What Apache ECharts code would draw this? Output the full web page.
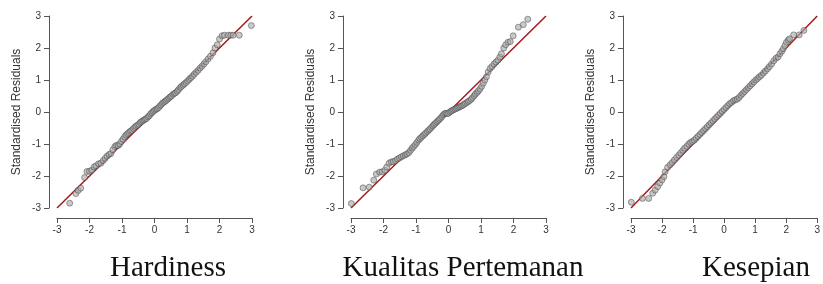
<!DOCTYPE html>
<html>
<head>
<meta charset="utf-8">
<script src="https://cdn.jsdelivr.net/npm/echarts@6/dist/echarts.min.js"></script>
<style>
  html, body { margin: 0; padding: 0; background: #fff; }
  #MyChart { width: 823px; height: 284px; }
</style>
</head>
<body>
<div id="MyChart"></div>
<script>
// Q-Q plots: theoretical quantiles (x) vs standardised residuals (y)
const panelTitles = ['Hardiness', 'Kualitas Pertemanan', 'Kesepian']
const tickValues = [-3, -2, -1, 0, 1, 2, 3]
const refLine = [[-3, -3], [3, 3]]

const hardX = [-2.61,-2.42,-2.35,-2.27,-2.15,-2.08,-2.0,-1.93,-1.86,-1.8,-1.72,-1.65,-1.58,-1.52,-1.46,-1.4,-1.34,-1.28,-1.22,-1.17,-1.12,-1.07,-1.02,-0.97,-0.92,-0.88,-0.83,-0.79,-0.74,-0.7,-0.65,-0.61,-0.57,-0.52,-0.48,-0.44,-0.4,-0.36,-0.32,-0.28,-0.24,-0.2,-0.16,-0.12,-0.08,-0.04,0,0.04,0.08,0.12,0.16,0.2,0.24,0.28,0.32,0.36,0.4,0.44,0.48,0.52,0.57,0.61,0.65,0.7,0.74,0.79,0.83,0.88,0.92,0.97,1.02,1.07,1.12,1.17,1.22,1.28,1.34,1.4,1.46,1.52,1.58,1.65,1.72,1.8,1.86,1.93,2.0,2.08,2.15,2.27,2.35,2.42,2.61,2.98]
const hardY = [-2.85,-2.55,-2.45,-2.38,-2.05,-1.86,-1.85,-1.82,-1.72,-1.68,-1.62,-1.6,-1.52,-1.45,-1.38,-1.33,-1.3,-1.18,-1.08,-1.04,-1.05,-1.0,-0.92,-0.85,-0.78,-0.72,-0.68,-0.64,-0.6,-0.57,-0.52,-0.48,-0.44,-0.41,-0.38,-0.33,-0.3,-0.27,-0.25,-0.22,-0.2,-0.15,-0.12,-0.06,-0.02,0.02,0.05,0.08,0.1,0.13,0.18,0.22,0.27,0.3,0.33,0.36,0.4,0.43,0.47,0.5,0.55,0.58,0.6,0.65,0.7,0.76,0.8,0.84,0.88,0.92,0.97,1.02,1.07,1.12,1.18,1.24,1.3,1.37,1.43,1.5,1.57,1.66,1.74,1.85,2.0,2.1,2.28,2.38,2.4,2.4,2.4,2.4,2.4,2.7]

const kualX = [-2.99,-2.63,-2.44,-2.3,-2.22,-2.12,-2.04,-1.96,-1.9,-1.83,-1.76,-1.7,-1.63,-1.57,-1.51,-1.45,-1.39,-1.33,-1.28,-1.22,-1.17,-1.12,-1.07,-1.02,-0.97,-0.92,-0.88,-0.83,-0.79,-0.74,-0.7,-0.65,-0.61,-0.57,-0.52,-0.48,-0.44,-0.4,-0.36,-0.32,-0.28,-0.24,-0.2,-0.16,-0.12,-0.08,-0.04,0,0.04,0.08,0.12,0.16,0.2,0.24,0.28,0.32,0.36,0.4,0.44,0.48,0.52,0.57,0.61,0.65,0.7,0.74,0.79,0.83,0.88,0.92,0.97,1.02,1.07,1.12,1.17,1.22,1.28,1.34,1.4,1.46,1.52,1.58,1.63,1.7,1.76,1.83,1.9,1.99,2.15,2.3,2.44]
const kualY = [-2.86,-2.37,-2.35,-2.13,-1.94,-1.88,-1.87,-1.82,-1.72,-1.6,-1.56,-1.55,-1.52,-1.47,-1.44,-1.4,-1.37,-1.34,-1.31,-1.27,-1.2,-1.13,-1.08,-1.02,-0.95,-0.88,-0.83,-0.79,-0.74,-0.7,-0.66,-0.61,-0.57,-0.53,-0.48,-0.43,-0.39,-0.35,-0.31,-0.27,-0.23,-0.19,-0.14,-0.09,-0.05,-0.04,-0.05,-0.04,0.0,0.03,0.05,0.07,0.09,0.11,0.13,0.15,0.17,0.19,0.21,0.24,0.27,0.3,0.33,0.36,0.4,0.45,0.51,0.56,0.61,0.66,0.72,0.8,0.9,1.0,1.1,1.25,1.36,1.42,1.5,1.56,1.62,1.72,1.82,2.0,2.1,2.18,2.2,2.38,2.65,2.73,2.9]

const kesX = [-2.99,-2.63,-2.43,-2.3,-2.22,-2.14,-2.07,-2.0,-1.94,-1.9,-1.82,-1.74,-1.67,-1.6,-1.53,-1.46,-1.4,-1.33,-1.27,-1.2,-1.14,-1.08,-1.02,-0.96,-0.9,-0.84,-0.78,-0.72,-0.66,-0.6,-0.54,-0.48,-0.42,-0.36,-0.3,-0.24,-0.18,-0.12,-0.06,0.0,0.06,0.12,0.18,0.24,0.3,0.36,0.42,0.48,0.54,0.6,0.66,0.72,0.78,0.84,0.9,0.96,1.02,1.08,1.14,1.2,1.27,1.33,1.4,1.46,1.53,1.6,1.67,1.74,1.8,1.86,1.91,1.96,2.01,2.07,2.11,2.24,2.42,2.57]
const kesY = [-2.82,-2.7,-2.7,-2.54,-2.44,-2.33,-2.22,-2.12,-2.02,-1.87,-1.73,-1.65,-1.58,-1.5,-1.42,-1.35,-1.28,-1.2,-1.13,-1.07,-1.0,-0.95,-0.92,-0.88,-0.82,-0.76,-0.7,-0.64,-0.58,-0.52,-0.46,-0.4,-0.34,-0.28,-0.22,-0.16,-0.1,-0.04,0.02,0.08,0.14,0.2,0.26,0.3,0.35,0.38,0.4,0.45,0.52,0.58,0.64,0.7,0.76,0.82,0.88,0.94,1.0,1.05,1.1,1.15,1.22,1.28,1.35,1.42,1.5,1.6,1.68,1.72,1.82,1.9,1.98,2.08,2.18,2.25,2.29,2.41,2.41,2.55]

const panelX = [hardX, kualX, kesX]
const panelY = [hardY, kualY, kesY]
const gridLeft = [57, 351, 631]
const titleCenter = [168, 463, 756]

let myChart = echarts.init(document.getElementById('MyChart'))

let grids = [], xAxes = [], yAxes = [], series = [], texts = []
for (let i = 0; i < 3; i++) {
  grids.push({ left: gridLeft[i], top: 16, width: 195, height: 192 })
  xAxes.push({
    gridIndex: i, type: 'value', min: -3, max: 3, interval: 1, offset: 10,
    axisLine: { onZero: false, lineStyle: { color: '#555', width: 1 } },
    axisTick: { length: 5, lineStyle: { color: '#555' } },
    axisLabel: { color: '#333', fontSize: 10, margin: 7, fontFamily: 'Liberation Sans' },
    splitLine: { show: false }
  })
  yAxes.push({
    gridIndex: i, type: 'value', min: -3, max: 3, interval: 1, offset: 8,
    name: 'Standardised Residuals', nameLocation: 'middle', nameGap: 26,
    nameTextStyle: { color: '#333', fontSize: 12, fontFamily: 'Liberation Sans' },
    axisLine: { show: true, onZero: false, lineStyle: { color: '#555', width: 1 } },
    axisTick: { show: true, length: 5, lineStyle: { color: '#555' } },
    axisLabel: { color: '#333', fontSize: 10, margin: 8, fontFamily: 'Liberation Sans' },
    splitLine: { show: false }
  })
  // 参考线 y = x
  series.push({
    type: 'line', xAxisIndex: i, yAxisIndex: i, data: refLine,
    symbol: 'none', lineStyle: { color: '#a31a1a', width: 1.5 }, z: 1
  })
  let pts = []
  for (let j = 0; j < panelX[i].length; j++) pts.push([panelX[i][j], panelY[i][j]])
  series.push({
    type: 'scatter', xAxisIndex: i, yAxisIndex: i, data: pts, symbolSize: 6, clip: false,
    itemStyle: { color: 'rgba(170,170,170,0.8)', borderColor: 'rgba(60,60,60,0.6)', borderWidth: 1 },
    z: 2
  })
  texts.push({
    type: 'text', x: titleCenter[i], y: 268,
    style: { text: panelTitles[i], fill: '#111', font: '29px "Liberation Serif"', align: 'center', verticalAlign: 'middle' }
  })
}

let option = {
  animation: false,
  grid: grids,
  xAxis: xAxes,
  yAxis: yAxes,
  series: series,
  graphic: texts
}
myChart.setOption(option)
</script>
</body>
</html>
